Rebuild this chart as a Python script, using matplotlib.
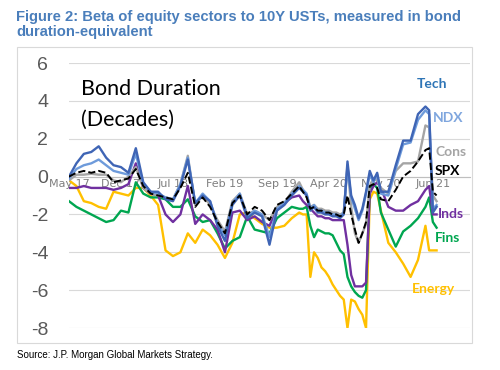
import matplotlib
matplotlib.use("Agg")
import matplotlib.pyplot as plt
from matplotlib.patches import Rectangle

# months since May 2017
months = [0, 1, 2, 3, 4, 5, 6, 7, 8, 9,
          10, 11, 12, 13, 14, 15, 16, 17, 18, 19,
          20, 21, 22, 23, 24, 25, 26, 27, 28, 29,
          30, 31,
          31.5, 32, 32.5, 33, 33.5, 34, 34.5, 35, 35.5, 36, 36.5, 37, 37.5, 38, 38.5, 39, 39.5, 40, 40.5, 41, 41.5, 42,
          43, 44, 45, 46, 47, 48, 48.5, 49, 49.5]

tech = [0.0, 0.7, 1.2, 1.3, 1.6, 1.0, 0.6, 0.5, 0.2, 1.5,
        -0.3, -0.8, -0.8, -1.2, -1.3, -0.5, 0.9, -1.4, -1.0, -1.3,
        -2.6, -3.4, -1.5, -1.0, -2.2, -1.9, -2.1, -3.6, -1.8, -1.5,
        -1.0, -0.6,
        -0.8, -1.0, -1.8, -1.6, -1.9, -1.9, -2.0, -2.0, -2.1, -2.1, -2.2, -2.0, 0.8, -1.0, -1.5, -2.2, -1.7, -0.8, 0.3, -0.2, 0.2, -0.8,
        -0.8, 0.6, 1.9, 1.9, 3.3, 3.7, 3.5, -1.9, -1.6]

ndx = [-0.1, 0.4, 0.6, 0.7, 0.9, 0.6, 0.3, 0.2, 0.1, 1.2,
       -0.4, -0.8, -0.9, -1.1, -1.2, -0.4, 1.0, -1.4, -0.9, -1.3,
       -2.5, -3.1, -1.4, -0.9, -2.1, -1.8, -2.0, -3.2, -1.7, -1.4,
       -0.9, -0.5,
       -0.7, -0.9, -1.7, -1.5, -1.8, -1.8, -1.9, -1.9, -2.0, -2.0, -2.1, -1.9, 0.5, -1.1, -1.7, -2.3, -1.8, -0.9, 0.1, -0.3, 0.1, -0.9,
       -1.0, 0.4, 1.7, 1.8, 3.0, 3.5, 3.3, -1.7, -1.5]

cons = [-0.2, 0.1, 0.1, 0.15, 0.1, 0.1, -0.2, -0.3, 0.0, 0.5,
        -0.6, -0.9, -1.0, -1.1, -1.2, -0.4, 1.1, -1.5, -1.0, -1.5,
        -2.3, -2.9, -1.3, -0.9, -2.0, -1.8, -2.0, -2.3, -1.6, -1.4,
        -0.8, -0.3,
        -0.7, -1.0, -1.6, -1.5, -1.7, -1.7, -1.8, -1.8, -1.9, -1.9, -2.0, -1.9, 0.6, -1.6, -3.0, -3.5, -3.0, -2.5, -0.5, -0.1, -0.2, -0.6,
        -0.9, 0.3, 0.7, 0.7, 0.8, 2.7, 2.6, -1.0, -1.3]

spx = [0.0, 0.2, 0.3, 0.2, 0.3, 0.2, -0.3, -0.2, -0.1, 0.4,
       -0.5, -0.9, -1.0, -1.1, -1.2, -0.6, 0.2, -1.6, -1.1, -1.6,
       -2.4, -3.0, -1.4, -1.0, -2.0, -1.6, -1.8, -2.3, -1.5, -1.3,
       -0.9, -0.5,
       -0.8, -1.1, -1.7, -1.6, -1.8, -1.8, -1.9, -1.9, -2.0, -2.0, -2.1, -2.0, -1.0, -2.0, -2.8, -3.5, -3.0, -2.4, -0.5, -0.4, -0.6, -1.2,
       -1.3, -0.7, 0.0, 0.3, 0.8, 1.4, 1.5, -0.8, -1.0]

inds = [-0.6, -0.6, -0.5, -0.6, -0.6, -0.6, -0.7, -0.6, -0.4, 0.7,
        -0.6, -0.9, -1.0, -2.0, -2.4, -2.0, -0.5, -2.5, -2.0, -2.3,
        -2.8, -4.0, -1.9, -1.8, -2.3, -2.1, -2.4, -2.6, -1.7, -1.4,
        -1.1, -1.0,
        -1.3, -1.5, -1.7, -1.9, -2.1, -2.1, -2.2, -2.2, -2.3, -2.3, -2.3, -2.3, -3.6, -5.2, -5.8, -5.8, -5.8, -5.6, -0.9, -0.5, -0.3, -0.6,
        -1.6, -1.8, -1.8, -1.5, -1.3, -0.7, -0.5, -2.0, -2.0]

fins = [-1.3, -1.6, -1.8, -2.0, -2.2, -2.4, -2.3, -1.8, -1.9, -0.3,
        -0.9, -1.1, -1.1, -1.2, -1.6, -1.6, -1.2, -2.1, -2.4, -2.3,
        -3.0, -3.8, -3.4, -3.2, -2.1, -2.8, -2.9, -3.0, -2.2, -1.9,
        -1.6, -1.7,
        -1.7, -1.6, -2.6, -3.2, -2.8, -2.9, -3.0, -3.0, -3.1, -3.5, -3.9, -4.1, -5.3, -5.8, -6.1, -6.3, -6.4, -6.0, -0.6, -0.4, -0.6, -1.9,
        -2.8, -3.7, -2.9, -2.6, -2.2, -1.6, -1.1, -2.4, -2.7]

energy = [-0.2, -0.5, -1.3, -1.4, -1.6, -1.7, -0.8, -0.9, -1.0, -0.6,
          -0.6, -1.0, -1.5, -3.9, -4.2, -4.0, -3.0, -3.5, -2.8, -3.1,
          -3.6, -4.3, -3.5, -2.0, -1.9, -2.2, -2.5, -2.7, -2.7, -2.6,
          -2.2, -1.9,
          -2.0, -2.0, -5.3, -4.0, -4.3, -4.8, -5.0, -5.3, -5.7, -6.0, -6.3, -6.5, -8.0, -6.5, -6.6, -7.0, -7.3, -8.0, -1.2, -0.8, -0.9, -1.8,
          -3.5, -4.0, -4.6, -5.3, -4.4, -2.6, -3.9, -3.9, -3.9]

tick_pos = [0, 7, 14, 21, 28, 35, 42, 49]
tick_labels = ["May 17", "Dec 17", "Jul 18", "Feb 19", "Sep 19", "Apr 20", "Nov 20", "Jun 21"]
y_ticks = [-8, -6, -4, -2, 0, 2, 4, 6]

series = [
    ("Energy", energy, "#FFC000", "-", "#FFC000", 46.2, -5.95),
    ("Fins", fins, "#00A650", "-", "#00A650", 49.3, -3.26),
    ("Inds", inds, "#7030A0", "-", "#7030A0", 49.7, -2.0),
    ("Cons", cons, "#A5A5A5", "-", "#A5A5A5", 49.3, 1.3),
    ("NDX", ndx, "#6E9BDB", "-", "#7FA6DE", 49.0, 3.1),
    ("Tech", tech, "#3F65B5", "-", "#2E75B6", 46.8, 4.9),
    ("SPX", spx, "#000000", "--", "#000000", 49.3, 0.3),
]

fig = plt.figure(figsize=(5, 3.7), dpi=100)
fig.patch.set_facecolor("white")

# outer box
fig.patches.append(Rectangle((0.034, 0.073), 0.91, 0.80, transform=fig.transFigure,
                             fill=False, edgecolor="#D9D9D9", linewidth=0.8))

fig.text(0.032, 1 - 10 / 370,
         "Figure 2: Beta of equity sectors to 10Y USTs, measured in bond\nduration-equivalent",
         ha="left", va="top", color="#4A7EBB", fontsize=10.6, fontweight="bold",
         family="Liberation Sans", linespacing=1.1)
fig.text(0.034, 1 - 355 / 370, "Source: J.P. Morgan Global Markets Strategy.",
         ha="left", va="center", color="#000000", fontsize=7, family="Liberation Sans")

ax = fig.add_axes([0.138, 0.1135, 0.802, 0.7162])
ax.set_axisbelow(True)
for name, vals, col, ls, lcol, lx, ly in series:
    ax.plot(months, vals, color=col, linestyle=ls, linewidth=1.7 if ls == "-" else 1.4, zorder=3)
    ax.text(lx, ly, name, color=lcol, fontsize=10, fontweight="bold", family="Lato",
            ha="left", va="center", zorder=4)

ax.set_xlim(0, 54)
ax.set_ylim(-8, 6)
ax.set_yticks(y_ticks)
ax.set_yticklabels([str(v) for v in y_ticks])
ax.yaxis.grid(True, color="#D9D9D9", linewidth=0.8)
ax.tick_params(axis="y", length=0, pad=15, labelsize=14, labelcolor="#595959")
for lab in ax.get_yticklabels():
    lab.set_family("Liberation Sans")

ax.set_xticks(tick_pos)
ax.set_xticklabels(tick_labels)
ax.tick_params(axis="x", length=0, pad=2, labelsize=8, labelcolor="#7F7F7F")
for lab in ax.get_xticklabels():
    lab.set_family("Liberation Sans")

for s in ["top", "right", "left"]:
    ax.spines[s].set_visible(False)
ax.spines["bottom"].set_position(("data", 0))
ax.spines["bottom"].set_color("#BFBFBF")
ax.spines["bottom"].set_linewidth(0.8)

ax.text(1.6, 4.65, "Bond Duration", fontsize=15.5, family="Lato", color="black",
        ha="left", va="center")
ax.text(1.6, 3.0, "(Decades)", fontsize=15.5, family="Lato", color="black",
        ha="left", va="center")

fig.savefig("out.png", dpi=100)
